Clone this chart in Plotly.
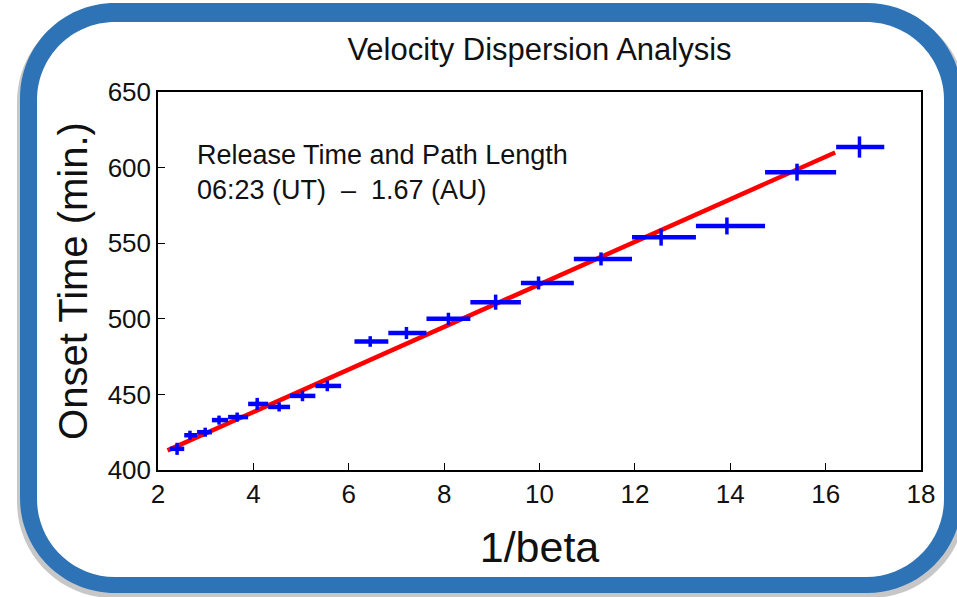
import plotly.graph_objects as go

# ---- data ----
inv_beta = [2.40, 2.67, 2.99, 3.28, 3.66, 4.08, 4.54, 5.03, 5.55, 6.45,
            7.21, 8.09, 9.08, 9.98, 11.29, 12.55, 13.93, 15.40, 16.71]
onset_min = [414, 423, 425, 433, 435, 443.7, 441.7, 449, 455.6, 485,
             490.6, 500, 511, 523.7, 539.6, 554, 561.4, 597, 613.6]
xerr_minus = [0.15, 0.12, 0.17, 0.15, 0.19, 0.19, 0.23, 0.26, 0.25, 0.33,
              0.38, 0.46, 0.53, 0.37, 0.57, 0.61, 0.65, 0.67, 0.49]
xerr_plus = [0.15, 0.15, 0.14, 0.19, 0.23, 0.23, 0.23, 0.27, 0.29, 0.38,
             0.42, 0.46, 0.53, 0.74, 0.65, 0.73, 0.80, 0.82, 0.52]
yerr = [4, 3, 3, 3, 3, 4, 3, 3.5, 3.5, 3.5, 4, 4, 5, 4.3, 4.3, 5.6, 5.6, 5.6, 7]
fit_x = [2.2, 16.2]
fit_y = [413.0, 610.0]
x_ticks = [2, 4, 6, 8, 10, 12, 14, 16, 18]
y_ticks = [400, 450, 500, 550, 600, 650]

W, H = 957, 597
L, R, T, B = 158, 921, 92, 470  # plot area pixels
PW, PH = R - L, B - T

FONT = "Liberation Sans, Arial, Helvetica, sans-serif"


def px(x):
    return (x - L) / PW


def py(y):
    return (B - y) / PH


def rrect(x0, y0, x1, y1, r):
    k = 0.5523 * r
    pts = []
    pts.append(f"M{px(x0 + r)},{py(y0)}")
    pts.append(f"L{px(x1 - r)},{py(y0)}")
    pts.append(f"C{px(x1 - r + k)},{py(y0)} {px(x1)},{py(y0 + r - k)} {px(x1)},{py(y0 + r)}")
    pts.append(f"L{px(x1)},{py(y1 - r)}")
    pts.append(f"C{px(x1)},{py(y1 - r + k)} {px(x1 - r + k)},{py(y1)} {px(x1 - r)},{py(y1)}")
    pts.append(f"L{px(x0 + r)},{py(y1)}")
    pts.append(f"C{px(x0 + r - k)},{py(y1)} {px(x0)},{py(y1 - r + k)} {px(x0)},{py(y1 - r)}")
    pts.append(f"L{px(x0)},{py(y0 + r)}")
    pts.append(f"C{px(x0)},{py(y0 + r - k)} {px(x0 + r - k)},{py(y0)} {px(x0 + r)},{py(y0)}")
    pts.append("Z")
    return " ".join(pts)


shapes = [
    dict(type="path", xref="paper", yref="paper", layer="below",
         path=rrect(17, 6, 966, 598, 96), fillcolor="rgba(0,0,0,0.22)", line=dict(width=0)),
    dict(type="path", xref="paper", yref="paper", layer="below",
         path=rrect(20, 3, 962, 593, 95), fillcolor="#2e73b5", line=dict(width=0)),
    dict(type="path", xref="paper", yref="paper", layer="below",
         path=rrect(37, 22, 944, 577, 78), fillcolor="white", line=dict(width=0)),
]

fig = go.Figure()
fig.add_trace(go.Scatter(
    x=fit_x, y=fit_y, mode="lines",
    line=dict(color="#ff0000", width=4.5), hoverinfo="skip", showlegend=False))
fig.add_trace(go.Scatter(
    x=inv_beta, y=onset_min, mode="markers",
    marker=dict(size=1, color="#0000ff"),
    error_x=dict(type="data", symmetric=False, array=xerr_plus, arrayminus=xerr_minus,
                 color="#0000ff", thickness=4.5, width=0),
    error_y=dict(type="data", array=yerr, color="#0000ff", thickness=3.5, width=0),
    showlegend=False))

fig.update_layout(
    width=W, height=H,
    margin=dict(l=L, r=W - R, t=T, b=H - B),
    paper_bgcolor="white", plot_bgcolor="white",
    shapes=shapes,
    title=dict(text="Velocity Dispersion Analysis", x=0.5, xref="paper", xanchor="center",
               y=1 - 49 / H, yref="container", yanchor="middle",
               font=dict(family=FONT, size=31, color="#111")),
    annotations=[
        dict(text="Release Time and Path Length", xref="paper", yref="paper",
             x=px(195), y=py(155), xanchor="left", yanchor="middle", showarrow=False,
             font=dict(family=FONT, size=27, color="#111")),
        dict(text="06:23 (UT)\u00a0\u00a0–\u00a0\u00a01.67 (AU)", xref="paper", yref="paper",
             x=px(195), y=py(190), xanchor="left", yanchor="middle", showarrow=False,
             font=dict(family=FONT, size=27, color="#111")),
    ],
)
fig.update_xaxes(range=[2, 18], tickvals=x_ticks, ticktext=[str(v) for v in x_ticks],
                 showgrid=False, zeroline=False, showline=True, linecolor="black",
                 linewidth=1.5, mirror=True, ticks="inside", ticklen=7, tickcolor="black",
                 tickfont=dict(family=FONT, size=26, color="#111"),
                 title=dict(text="1/beta", standoff=24,
                            font=dict(family=FONT, size=43, color="#111")))
fig.update_yaxes(range=[400, 650], tickvals=y_ticks, ticktext=[str(v) for v in y_ticks],
                 showgrid=False, zeroline=False, showline=True,
                 linecolor="black", linewidth=1.5, mirror=True, ticks="inside", ticklen=7,
                 tickcolor="black",
                 tickfont=dict(family=FONT, size=26, color="#111"),
                 title=dict(text="Onset Time (min.)", standoff=8,
                            font=dict(family=FONT, size=40, color="#111")))

fig.write_html("out.html", config={"displayModeBar": False},
               post_script="document.body.style.margin='0';")
